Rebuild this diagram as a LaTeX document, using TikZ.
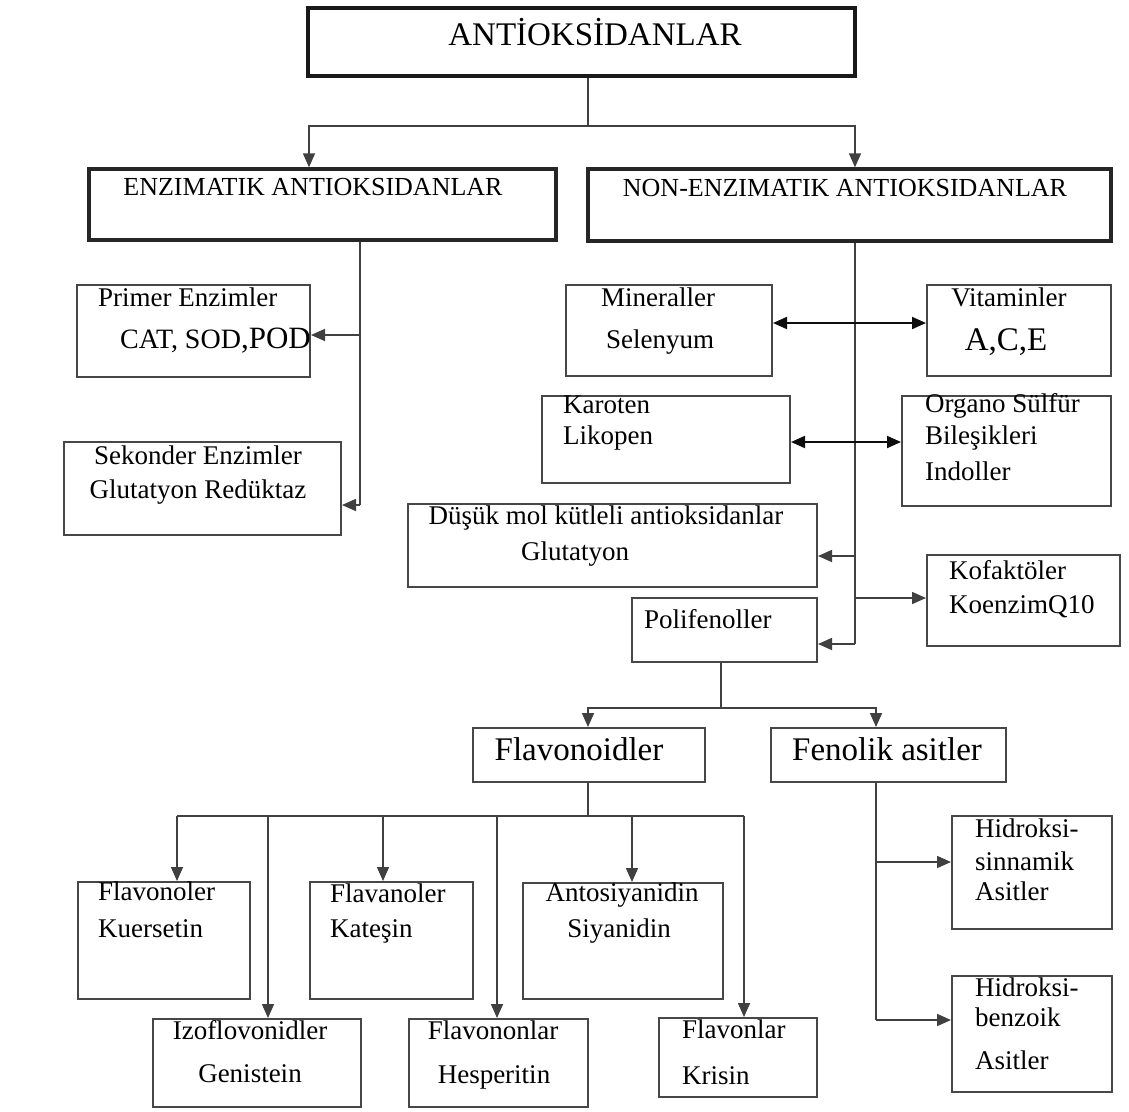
\documentclass[tikz,border=0pt]{standalone}
\usepackage{fontspec}
\setmainfont{Liberation Serif}
\usetikzlibrary{arrows.meta,fit}

\tikzset{
  box/.style={draw=black!72, line width=2pt, inner sep=0pt},
  mainbox/.style={box, draw=black!85, line width=3.4pt},
  topbox/.style={box, draw=black!90, line width=4.6pt},
  txt/.style={inner sep=0pt, text height=18pt, text depth=5pt, font=\fontsize{27}{31}\selectfont},
  bigtxt/.style={txt, font=\fontsize{33}{38}\selectfont, text height=23pt, text depth=6pt},
  link/.style={draw=black!75, line width=1.6pt},
  arr/.style={link, -{Triangle[length=14pt,width=12pt]}},
  darr/.style={link, draw=black!95, line width=2pt, {Triangle[length=14pt,width=12pt]}-{Triangle[length=14pt,width=12pt]}},
}

\begin{document}
\begin{tikzpicture}[x=1pt,y=-1pt]
  \useasboundingbox (0,0) rectangle (1129,1111);

  \node[topbox, fit={(308,8)(855,76)}] (ant) {};
  \node[bigtxt] (ant-t) at (595,37) {ANTİOKSİDANLAR};

  \node[mainbox, fit={(89,169)(556,240)}] (enz) {};
  \node[txt] (enz-t) at (313,189) {\fontsize{26}{30}\selectfont ENZIMATIK ANTIOKSIDANLAR};
  \node[mainbox, fit={(588,169)(1111,241)}] (nonenz) {};
  \node[txt] (nonenz-t) at (845,190) {\fontsize{26}{30}\selectfont NON-ENZIMATIK ANTIOKSIDANLAR};

  \node[box, fit={(77,285)(310,377)}] (prim) {};
  \node[txt, anchor=west] (prim-t1) at (98,300) {Primer Enzimler};
  \node[txt, anchor=west] (prim-t2) at (120,342) {\fontsize{28}{32}\selectfont CAT, SOD\fontsize{31}{35}\selectfont,POD};
  \node[box, fit={(64,442)(341,535)}] (sek) {};
  \node[txt] (sek-t1) at (198,458) {Sekonder Enzimler};
  \node[txt] (sek-t2) at (198,492) {Glutatyon Redüktaz};

  \node[box, fit={(566,285)(772,376)}] (mine) {};
  \node[txt] (mine-t1) at (658,300) {Mineraller};
  \node[txt] (mine-t2) at (660,342) {Selenyum};
  \node[box, fit={(927,285)(1111,376)}] (vita) {};
  \node[txt] (vita-t1) at (1009,300) {Vitaminler};
  \node[bigtxt] (vita-t2) at (1006,342) {A,C,E};
  \node[box, fit={(542,396)(790,483)}] (karo) {};
  \node[txt, anchor=west] (karo-t1) at (563,407) {Karoten};
  \node[txt, anchor=west] (karo-t2) at (563,438) {Likopen};
  \node[box, fit={(902,396)(1111,506)}] (orga) {};
  \node[txt, anchor=west] (orga-t1) at (925,406) {Organo Sülfür};
  \node[txt, anchor=west] (orga-t2) at (925,438) {Bileşikleri};
  \node[txt, anchor=west] (orga-t3) at (925,474) {Indoller};
  \node[box, fit={(408,504)(817,587)}] (dusuk) {};
  \node[txt] (dusuk-t1) at (606,518) {Düşük mol kütleli antioksidanlar};
  \node[txt] (dusuk-t2) at (575,554) {Glutatyon};
  \node[box, fit={(927,555)(1120,646)}] (kofa) {};
  \node[txt, anchor=west] (kofa-t1) at (949,573) {Kofaktöler};
  \node[txt, anchor=west] (kofa-t2) at (949,607) {KoenzimQ10};
  \node[box, fit={(632,598)(817,662)}] (poli) {};
  \node[txt, anchor=west] (poli-t) at (644,622) {Polifenoller};

  \node[box, fit={(473,728)(705,782)}] (flavo) {};
  \node[bigtxt] (flavo-t) at (579,752) {Flavonoidler};
  \node[box, fit={(771,728)(1006,782)}] (feno) {};
  \node[bigtxt] (feno-t) at (887,752) {Fenolik asitler};

  \node[box, fit={(78,882)(250,999)}] (flvl) {};
  \node[txt, anchor=west] (flvl-t1) at (98,894) {Flavonoler};
  \node[txt, anchor=west] (flvl-t2) at (98,931) {Kuersetin};
  \node[box, fit={(310,882)(473,999)}] (flvn) {};
  \node[txt, anchor=west] (flvn-t1) at (330,896) {Flavanoler};
  \node[txt, anchor=west] (flvn-t2) at (330,931) {Kateşin};
  \node[box, fit={(523,883)(723,999)}] (anto) {};
  \node[txt] (anto-t1) at (622,895) {Antosiyanidin};
  \node[txt] (anto-t2) at (619,931) {Siyanidin};
  \node[box, fit={(153,1019)(361,1107)}] (izo) {};
  \node[txt] (izo-t1) at (250,1033) {Izoflovonidler};
  \node[txt] (izo-t2) at (250,1076) {Genistein};
  \node[box, fit={(409,1019)(588,1107)}] (flvnon) {};
  \node[txt] (flvnon-t1) at (493,1033) {Flavononlar};
  \node[txt] (flvnon-t2) at (494,1077) {Hesperitin};
  \node[box, fit={(659,1018)(817,1097)}] (flvon) {};
  \node[txt, anchor=west] (flvon-t1) at (682,1032) {Flavonlar};
  \node[txt, anchor=west] (flvon-t2) at (682,1078) {Krisin};

  \node[box, fit={(952,816)(1112,929)}] (sinn) {};
  \node[txt, anchor=west] (sinn-t1) at (975,831) {Hidroksi-};
  \node[txt, anchor=west] (sinn-t2) at (975,864) {sinnamik};
  \node[txt, anchor=west] (sinn-t3) at (975,894) {Asitler};
  \node[box, fit={(952,976)(1112,1092)}] (benz) {};
  \node[txt, anchor=west] (benz-t1) at (975,990) {Hidroksi-};
  \node[txt, anchor=west] (benz-t2) at (975,1020) {benzoik};
  \node[txt, anchor=west] (benz-t3) at (975,1063) {Asitler};

  \coordinate (b1) at (588,126);
  \coordinate (b1l) at (309,126);
  \coordinate (b1r) at (855,126);
  \draw[link] (ant.south -| b1) -- (b1);
  \draw[arr] (b1) -| (b1l |- enz.north);
  \draw[arr] (b1) -| (b1r |- nonenz.north);

  \coordinate (e1) at (360,335);
  \coordinate (e2) at (360,505);
  \draw[link] (enz.south -| e2) -- (e2);
  \draw[arr] (e1) -- (e1 -| prim.east);
  \draw[arr] (e2) -- (e2 -| sek.east);

  \coordinate (n1) at (855,323);
  \coordinate (n2) at (855,442);
  \coordinate (n3) at (855,556);
  \coordinate (n4) at (855,598);
  \coordinate (n5) at (855,644);
  \draw[link] (nonenz.south -| n5) -- (n5);
  \draw[darr] (n1 -| mine.east) -- (n1 -| vita.west);
  \draw[darr] (n2 -| karo.east) -- (n2 -| orga.west);
  \draw[arr] (n3) -- (n3 -| dusuk.east);
  \draw[arr] (n4) -- (n4 -| kofa.west);
  \draw[arr] (n5) -- (n5 -| poli.east);

  \coordinate (p1) at (721,708);
  \coordinate (p1l) at (588,708);
  \coordinate (p1r) at (876,708);
  \draw[link] (poli.south -| p1) -- (p1);
  \draw[arr] (p1) -| (p1l |- flavo.north);
  \draw[arr] (p1) -| (p1r |- feno.north);

  \coordinate (f1) at (588,816);
  \coordinate (f1l) at (177,816);
  \coordinate (f1r) at (744,816);
  \draw[link] (flavo.south -| f1) -- (f1);
  \draw[link] (f1l) -- (f1r);
  \foreach \x/\b in {177/flvl, 268/izo, 383/flvn, 497/flvnon, 632/anto, 744/flvon}
    \draw[arr] (\x,816) -- (\x,816 |- \b.north);

  \coordinate (h1) at (876,862);
  \coordinate (h2) at (876,1020);
  \draw[link] (feno.south -| h2) -- (h2);
  \draw[arr] (h1) -- (h1 -| sinn.west);
  \draw[arr] (h2) -- (h2 -| benz.west);
\end{tikzpicture}
\end{document}
